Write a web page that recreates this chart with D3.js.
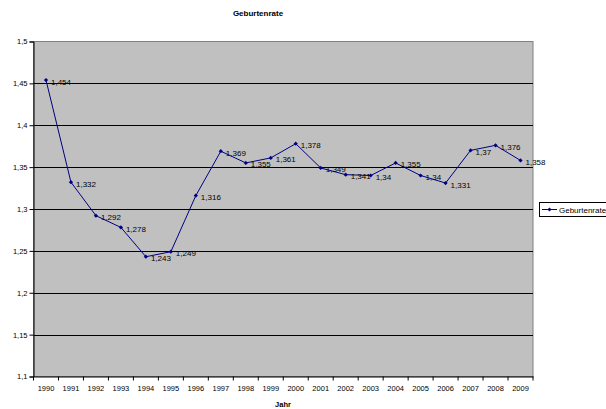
<!DOCTYPE html>
<html><head><meta charset="utf-8">
<script src="https://cdn.jsdelivr.net/npm/d3@7"></script>
<style>body{margin:0;background:#fff}svg{display:block;font-family:"Liberation Sans",Arial,sans-serif}</style>
</head><body>
<svg id="c" width="606" height="409"></svg>
<script>
const years = ["1990","1991","1992","1993","1994","1995","1996","1997","1998","1999","2000","2001","2002","2003","2004","2005","2006","2007","2008","2009"];
const values = [1.454,1.332,1.292,1.278,1.243,1.249,1.316,1.369,1.355,1.361,1.378,1.349,1.341,1.34,1.355,1.34,1.331,1.37,1.376,1.358];
const yTicks = [1.1,1.15,1.2,1.25,1.3,1.35,1.4,1.45,1.5];
const seriesName = "Geburtenrate";
const chartTitle = "Geburtenrate";
const xTitle = "Jahr";

const svg = d3.select("#c");
const L = 33.5, R = 533, T = 41.5, B = 376.5;
const fmt = v => String(v).replace(".", ",");
const x = d3.scaleBand().domain(years).range([L, R]);
const y = d3.scaleLinear().domain([1.1, 1.5]).range([B, T]);

svg.append("rect").attr("x", L).attr("y", T).attr("width", R - L).attr("height", B - T)
  .attr("fill", "#c0c0c0").attr("stroke", "#808080").attr("stroke-width", 1);

// gridlines
svg.append("g").selectAll("line").data(yTicks.filter(t => t > 1.1 && t < 1.5)).join("line")
  .attr("x1", L).attr("x2", R).attr("y1", d => Math.round(y(d)) + 0.5).attr("y2", d => Math.round(y(d)) + 0.5)
  .attr("stroke", "#000").attr("stroke-width", 1);

// y axis
const ya = d3.axisLeft(y).tickValues(yTicks).tickFormat(fmt).tickSize(4).tickPadding(2);
const gy = svg.append("g").attr("transform", `translate(${L},0)`).call(ya);
gy.select(".domain").attr("stroke", "#000");
gy.selectAll("text").attr("font-size", 7.5).attr("fill", "#000");

// x axis
const xa = d3.axisBottom(x).tickSize(0).tickPadding(9);
const gx = svg.append("g").attr("transform", `translate(0,${B})`).call(xa);
gx.select(".domain").attr("stroke", "#000");
gx.selectAll("text").attr("font-size", 7.5).attr("fill", "#000");
gx.selectAll(".bt").data(years.concat(["end"])).join("line")
  .attr("x1", (d, i) => L + i * x.step()).attr("x2", (d, i) => L + i * x.step())
  .attr("y1", 0).attr("y2", 4).attr("stroke", "#000");

// line
const px = (d, i) => x(years[i]) + x.bandwidth() / 2;
svg.append("path").datum(values)
  .attr("d", d3.line().x((d, i) => px(d, i)).y(d => y(d)))
  .attr("fill", "none").attr("stroke", "#000080").attr("stroke-width", 1);
const marker = d3.symbol().type(d3.symbolSquare).size(9);
svg.append("g").selectAll("path").data(values).join("path")
  .attr("d", marker).attr("transform", (d, i) => `translate(${px(d, i)},${y(d)}) rotate(45)`)
  .attr("fill", "#000080");
svg.append("g").selectAll("text").data(values).join("text")
  .attr("x", (d, i) => px(d, i) + 5).attr("y", d => y(d) + 4.5)
  .attr("font-size", 8).attr("fill", "#000").text(fmt);

// titles
svg.append("text").attr("x", 258).attr("y", 16).attr("text-anchor", "middle")
  .attr("font-size", 8).attr("font-weight", "bold").text(chartTitle);
svg.append("text").attr("x", 283).attr("y", 407).attr("text-anchor", "middle")
  .attr("font-size", 7.5).attr("font-weight", "bold").text(xTitle);

// legend
const lg = svg.append("g");
lg.append("rect").attr("x", 539.5).attr("y", 202.5).attr("width", 80).attr("height", 14)
  .attr("fill", "#fff").attr("stroke", "#000");
lg.append("line").attr("x1", 542).attr("x2", 557).attr("y1", 209.5).attr("y2", 209.5).attr("stroke", "#000080");
lg.append("path").attr("d", marker).attr("transform", "translate(549.5,209.5) rotate(45)").attr("fill", "#000080");
lg.append("text").attr("x", 559).attr("y", 212.5).attr("font-size", 8).text(seriesName);
</script>
</body></html>
